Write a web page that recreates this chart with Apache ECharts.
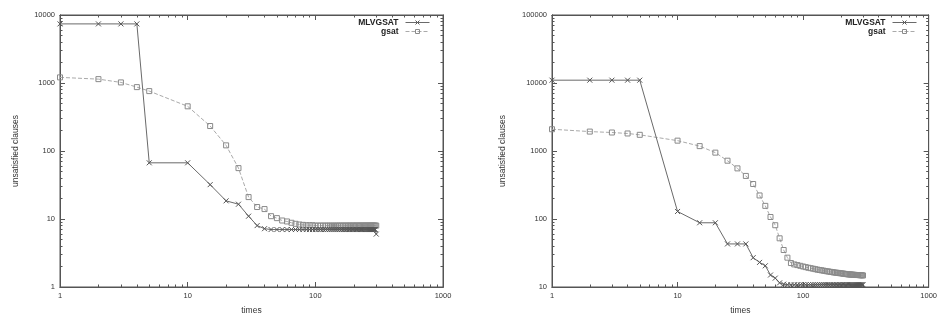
<!DOCTYPE html>
<html><head><meta charset="utf-8">
<script src="https://cdn.jsdelivr.net/npm/echarts@6/dist/echarts.min.js"></script>
<style>html,body{margin:0;padding:0;background:#fff}#c{width:940px;height:320px}</style>
</head><body><div id="c"></div>
<script>
// ---- data ----
const times = [1,2,3,4,5,
  10,15,20,25,30,35,40,45,50,55,
  60,65,70,75,80,85,90,95,100,105,
  110,115,120,125,130,135,140,145,150,155,
  160,165,170,175,180,185,190,195,200,205,
  210,215,220,225,230,235,240,245,250,255,
  260,265,270,275,280,285,290,295,300];

const leftMLVGSAT = [7400,7400,7400,7400,67,
  67,32,18.5,16.5,11,8,7.2,7,7,7,
  7,7,7,7,7,7,7,7,7,7,
  7,7,7,7,7,7,7,7,7,7,
  7,7,7,7,7,7,7,7,7,7,
  7,7,7,7,7,7,7,7,7,7,
  7,7,7,7,7,7,7,7,6];
const leftGsat = [1210,1140,1020,870,760,
  454,233,121,56,21,15,14,11,10.3,9.5,
  9.2,8.8,8.5,8.3,8.2,8.1,8.1,8.1,8,8,
  8,8,8,8,8,8,8,8,8,8,
  8,8,8,8,8,8,8,8,8,8,
  8,8,8,8,8,8,8,8,8,8,
  8,8,8,8,8,8,8,8,8];
const rightMLVGSAT = [11000,11000,11000,11000,11000,
  129,88,88,43,43,43,27,23,20.5,15,
  13.5,11.5,11,10.8,10.8,10.8,10.8,10.8,10.8,10.8,
  10.8,10.8,10.8,10.8,10.8,10.8,10.8,10.8,10.8,10.8,
  10.8,10.8,10.8,10.8,10.8,10.8,10.8,10.8,10.8,10.8,
  10.8,10.8,10.8,10.8,10.8,10.8,10.8,10.8,10.8,10.8,
  10.8,10.8,10.8,10.8,10.8,10.8,10.8,10.8,10.8];
const rightGsat = [2090,1930,1870,1810,1730,
  1420,1180,946,720,555,430,327,222,156,107,
  81,52,35,27,22.5,21.5,21,20.5,20,19.6,
  19.2,18.9,18.6,18.3,18,17.8,17.6,17.4,17.2,17,
  16.9,16.7,16.6,16.4,16.3,16.2,16.1,16,15.9,15.8,
  15.7,15.6,15.5,15.4,15.35,15.3,15.25,15.2,15.15,15.1,
  15.05,15,15,15,14.95,14.9,14.9,14.85,14.8];

const seriesNames = ['MLVGSAT','gsat'];
const xName = 'times';
const yName = 'unsatisfied clauses';

const xMajorTicks = [1,10,100,1000];
const xMinorTicks = [2,3,4,5,6,7,8,9,20,30,40,50,60,70,80,90,200,300,400,500,600,700,800,900];
const yMajorLeft = [1,10,100,1000,10000];
const yMinorLeft = [2,3,4,5,6,7,8,9,20,30,40,50,60,70,80,90,200,300,400,500,600,700,800,900,2000,3000,4000,5000,6000,7000,8000,9000];
const yMajorRight = [10,100,1000,10000,100000];
const yMinorRight = [20,30,40,50,60,70,80,90,200,300,400,500,600,700,800,900,2000,3000,4000,5000,6000,7000,8000,9000,20000,30000,40000,50000,60000,70000,80000,90000];

// ---- chart ----
const FONT = 'Liberation Sans, Arial, sans-serif';
const AX = '#555';
const CROSS = 'path://M0,0L10,10M10,0L0,10';
function pairs(xs, ys){ return xs.map((x,i)=>[x, ys[i]]); }

function logAxis(grid, pos, min, max, ticks, len, showLabel, name, nameGap){
  const a = {
    type:'log', logBase:10, gridIndex:grid, position:pos, min:min, max:max,
    axisLine:{show:true, onZero:false, lineStyle:{color:AX, width:1}},
    axisTick:{show:true, inside:true, length:len, customValues:ticks, lineStyle:{color:AX, width:1}},
    axisLabel:{show:showLabel, fontSize:7.5, color:'#333', fontFamily:FONT, margin:5,
      formatter:v=>String(Math.round(v))},
    splitLine:{show:false}, minorTick:{show:false}, minorSplitLine:{show:false},
    silent:true
  };
  if(name){
    a.name = name; a.nameLocation = 'middle'; a.nameGap = nameGap;
    a.nameTextStyle = {fontSize:8.5, color:'#333', fontFamily:FONT};
  }
  return a;
}

const xAxes = [], yAxes = [];
function addGrid(g, yMin, yMax, yMaj, yMin2, yGap){
  const xi = xAxes.length, yi = yAxes.length;
  xAxes.push(logAxis(g,'bottom',1,1000,xMajorTicks,5,true,xName,19));
  xAxes.push(logAxis(g,'bottom',1,1000,xMinorTicks,2.5,false));
  xAxes.push(logAxis(g,'top',1,1000,xMajorTicks,5,false));
  xAxes.push(logAxis(g,'top',1,1000,xMinorTicks,2.5,false));
  yAxes.push(logAxis(g,'left',yMin,yMax,yMaj,5,true,yName,yGap));
  yAxes.push(logAxis(g,'left',yMin,yMax,yMin2,2.5,false));
  yAxes.push(logAxis(g,'right',yMin,yMax,yMaj,5,false));
  yAxes.push(logAxis(g,'right',yMin,yMax,yMin2,2.5,false));
  return [xi, yi];
}
const [x0,y0] = addGrid(0, 1, 10000, yMajorLeft, yMinorLeft, 40);
const [x1,y1] = addGrid(1, 10, 100000, yMajorRight, yMinorRight, 45);

function mSeries(name, data, xi, yi){
  return {
    type:'line', name:name, data:data, xAxisIndex:xi, yAxisIndex:yi,
    symbol:CROSS, symbolSize:5, showSymbol:true,
    lineStyle:{color:'#6a6a6a', width:1},
    itemStyle:{color:'transparent', borderColor:'#555', borderWidth:1},
    emphasis:{disabled:true}, z:3
  };
}
function gSeries(name, data, xi, yi){
  return {
    type:'line', name:name, data:data, xAxisIndex:xi, yAxisIndex:yi,
    symbol:'rect', symbolSize:5, showSymbol:true,
    lineStyle:{color:'#aaa', width:1, type:[4,2]},
    itemStyle:{color:'transparent', borderColor:'#8a8a8a', borderWidth:1},
    emphasis:{disabled:true}, z:2
  };
}

const legendBase = {
  data:[
    {name:seriesNames[0], itemStyle:{color:'transparent', borderColor:'#555', borderWidth:1}},
    {name:seriesNames[1], itemStyle:{color:'transparent', borderColor:'#8a8a8a', borderWidth:1}}
  ],
  orient:'vertical', top:18, align:'right',
  itemWidth:24, itemHeight:5, itemGap:0, padding:0, selectedMode:false,
  lineStyle:{width:1},
  textStyle:{fontSize:8.5, lineHeight:9, fontWeight:'bold', fontFamily:FONT, color:'#222', padding:[0,2,0,0]}
};

const option = {
  animation:false,
  backgroundColor:'#fff',
  grid:[
    {left:60, right:497, top:15, bottom:25, show:true, borderColor:AX, borderWidth:1},
    {left:552, right:10, top:15, bottom:25, show:true, borderColor:AX, borderWidth:1}
  ],
  legend:[
    Object.assign({}, legendBase, {right:510}),
    Object.assign({}, legendBase, {right:23})
  ],
  xAxis:xAxes, yAxis:yAxes,
  series:[
    mSeries(seriesNames[0], pairs(times,leftMLVGSAT), x0, y0),
    gSeries(seriesNames[1], pairs(times,leftGsat), x0, y0),
    mSeries(seriesNames[0], pairs(times,rightMLVGSAT), x1, y1),
    gSeries(seriesNames[1], pairs(times,rightGsat), x1, y1)
  ]
};
const chart = echarts.init(document.getElementById('c'), null, {renderer:'canvas'});
chart.setOption(option);
</script>
</body></html>
